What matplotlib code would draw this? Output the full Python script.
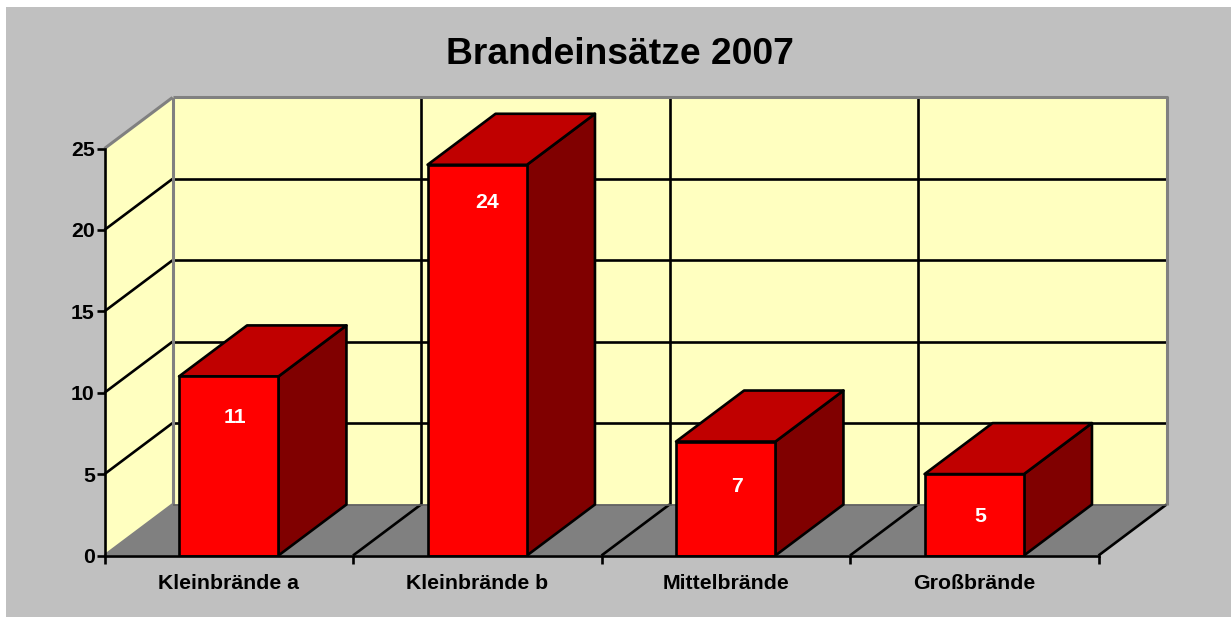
import matplotlib
matplotlib.use('Agg')
import matplotlib.pyplot as plt
from matplotlib.patches import Polygon, Rectangle

categories = ['Kleinbrände a', 'Kleinbrände b', 'Mittelbrände', 'Großbrände']
values = [11, 24, 7, 5]
y_ticks = [0, 5, 10, 15, 20, 25]

W, H = 1231, 617
plt.rcParams['font.family'] = ['Liberation Sans', 'DejaVu Sans']
plt.rcParams['font.weight'] = 'bold'

fig = plt.figure(figsize=(W / 100, H / 100), dpi=100, facecolor='white')
fig.patches.append(Rectangle((6 / W, 0), 1225 / W, 610 / H, transform=fig.transFigure,
                             facecolor='#c0c0c0', edgecolor='none', zorder=-10))

# axes = front edge of the 3d box
ax = fig.add_axes([104.5 / W, 1 - 555.5 / H, 994 / W, 407 / H])
ax.set_xlim(0, len(categories))
ax.set_ylim(0, 25)
ax.patch.set_visible(False)

# depth of the box in data units
dx = 68 / 248.5
dy = 51 / 16.28
lw = 1.9
x_max = len(categories)
y_max = y_ticks[-1]


def poly(pts, face, edge='none', z=1, width=lw):
    ax.add_patch(Polygon(pts, closed=True, facecolor=face, edgecolor=edge, linewidth=width,
                         zorder=z, clip_on=False, joinstyle='round'))


def line(xs, ys, color='black', z=3, width=lw):
    ax.plot(xs, ys, color=color, linewidth=width, zorder=z, clip_on=False, solid_capstyle='butt')


# walls and floor
poly([(dx, dy), (x_max + dx, dy), (x_max + dx, y_max + dy), (dx, y_max + dy)], '#ffffc0')
poly([(0, 0), (dx, dy), (dx, y_max + dy), (0, y_max)], '#ffffc0')
poly([(0, 0), (x_max, 0), (x_max + dx, dy), (dx, dy)], '#808080')

# gridlines
for v in y_ticks[1:-1]:
    line([0, dx], [v, v + dy])
    line([dx, x_max + dx], [v + dy, v + dy])
for c in range(1, x_max + 1):
    line([c, c + dx], [0, dy])
    if c < x_max:
        line([c + dx, c + dx], [dy, y_max + dy])

# grey outline of the box
line([dx, dx], [dy, y_max + dy], '#808080', 4, 2.2)
line([0, dx], [y_max, y_max + dy], '#808080', 4, 2.2)
line([dx, x_max + dx, x_max + dx], [y_max + dy, y_max + dy, dy], '#808080', 4, 2.2)
line([dx, x_max + dx], [dy, dy], '#606060', 4, 1.2)
line([0, dx], [0, dy], '#808080', 4)

# bars
centers = [i + 0.5 for i in range(len(categories))]
bar_w = 0.4
ax.bar(centers, values, width=bar_w, color='#ff0000', edgecolor='black', linewidth=lw, zorder=6)
for c, v in zip(centers, values):
    l, r = c - bar_w / 2, c + bar_w / 2
    poly([(r, 0), (r + dx, dy), (r + dx, v + dy), (r, v)], '#800000', 'black', 5)
    poly([(l, v), (r, v), (r + dx, v + dy), (l + dx, v + dy)], '#c00000', 'black', 5)

# value labels sit a bit off centre in the original
label_shift_x = [6, 9.5, 11, 5.5]
label_shift_y = [-41.5, -38, -45, -42]
for c, v, sx, sy in zip(centers, values, label_shift_x, label_shift_y):
    ax.annotate(str(v), (c, v), xytext=(sx * 0.72, sy * 0.72), textcoords='offset points',
                color='white', fontsize=15.3, fontweight='bold', ha='center', va='center', zorder=7)

# axes
for s in ['top', 'right']:
    ax.spines[s].set_visible(False)
for s in ['left', 'bottom']:
    ax.spines[s].set_linewidth(lw)
    ax.spines[s].set_zorder(8)
ax.set_yticks(y_ticks)
ax.set_xticks(range(x_max + 1))
ax.set_xticklabels([])
ax.set_xticks(centers, minor=True)
ax.set_xticklabels(categories, minor=True)
ax.tick_params(axis='x', which='major', length=5.5, width=lw)
ax.tick_params(axis='x', which='minor', length=0, pad=13, labelsize=15.3)
ax.tick_params(axis='y', length=5.5, width=lw, pad=1.5, labelsize=15.3)

fig.text(620 / W, 1 - 55 / H, 'Brandeinsätze 2007', fontsize=26.8, fontweight='bold', ha='center', va='center')

fig.savefig('out.png', dpi=100, facecolor=fig.get_facecolor())
